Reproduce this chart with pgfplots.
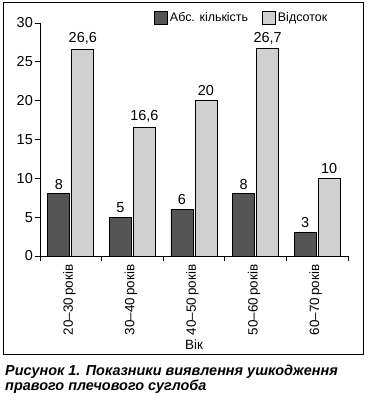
\documentclass[border=0pt]{standalone}
\usepackage{fontspec}
\setmainfont{Liberation Sans}
\usepackage{pgfplots}
\pgfplotsset{compat=1.18}
\definecolor{darkbar}{HTML}{555555}
\definecolor{lightbar}{HTML}{D0D0D0}
\begin{document}
\begin{tikzpicture}[x=1bp,y=1bp]
\useasboundingbox (-40,-145) rectangle (328,256);
\draw[line width=1bp] (-36,-98) rectangle (323,254);
\begin{axis}[
  at={(0,0)}, anchor=south west,
  scale only axis, width=308bp, height=233bp,
  ymin=0, ymax=30, xmin=-0.5, xmax=4.5,
  axis x line*=bottom, axis y line*=left,
  axis line style={line width=0.9bp},
  ytick={0,5,...,30},
  xtick={-0.5,0.5,...,4.5},
  xticklabels={20–30\,років,30–40\,років,40–50\,років,50–60\,років,60–70\,років},
  x tick label as interval=true,
  tick align=outside, major tick length=5bp,
  tick style={line width=0.9bp, black},
  /pgf/number format/assume math mode=true,
  /pgf/number format/use comma,
  yticklabel style={font=\fontsize{14.5}{16}\selectfont, inner sep=2bp},
  xticklabel style={rotate=90, anchor=base east, font=\fontsize{13.5}{15}\selectfont, yshift=-2bp},
  xlabel={Вік},
  xlabel style={at={(axis description cs:0.5,0)}, anchor=center, yshift=-89bp, font=\fontsize{13.5}{15}\selectfont},
  ybar=2bp, bar width=22bp,
  nodes near coords,
  nodes near coords style={font=\fontsize{14.5}{16}\selectfont, anchor=south, yshift=1bp},
  legend columns=2,
  legend style={draw=none, fill=none, inner sep=0pt, at={(rel axis cs:0.37,1.0236)}, anchor=west,
    font=\fontsize{12.5}{14}\selectfont,
    /tikz/every even column/.append style={column sep=12bp}},
  legend image code/.code={\draw[#1, draw=black, line width=0.8bp] (0bp,-6.5bp) rectangle (13bp,6.5bp);},
]
\addplot[fill=darkbar, draw=black, line width=0.8bp] coordinates {(0,8) (1,5) (2,6) (3,8) (4,3)};
\addplot[fill=lightbar, draw=black, line width=0.8bp] coordinates {(0,26.6) (1,16.6) (2,20) (3,26.7) (4,10)};
\legend{Абс. кількість, Відсоток}
\end{axis}
\node[anchor=base west, font=\bfseries\itshape\fontsize{14.5}{15}\selectfont, inner sep=0pt] at (-35,-119.7) {Рисунок 1. Показники виявлення ушкодження};
\node[anchor=base west, font=\bfseries\itshape\fontsize{14.5}{15}\selectfont, inner sep=0pt] at (-35,-134.7) {правого плечового суглоба};
\end{tikzpicture}
\end{document}
